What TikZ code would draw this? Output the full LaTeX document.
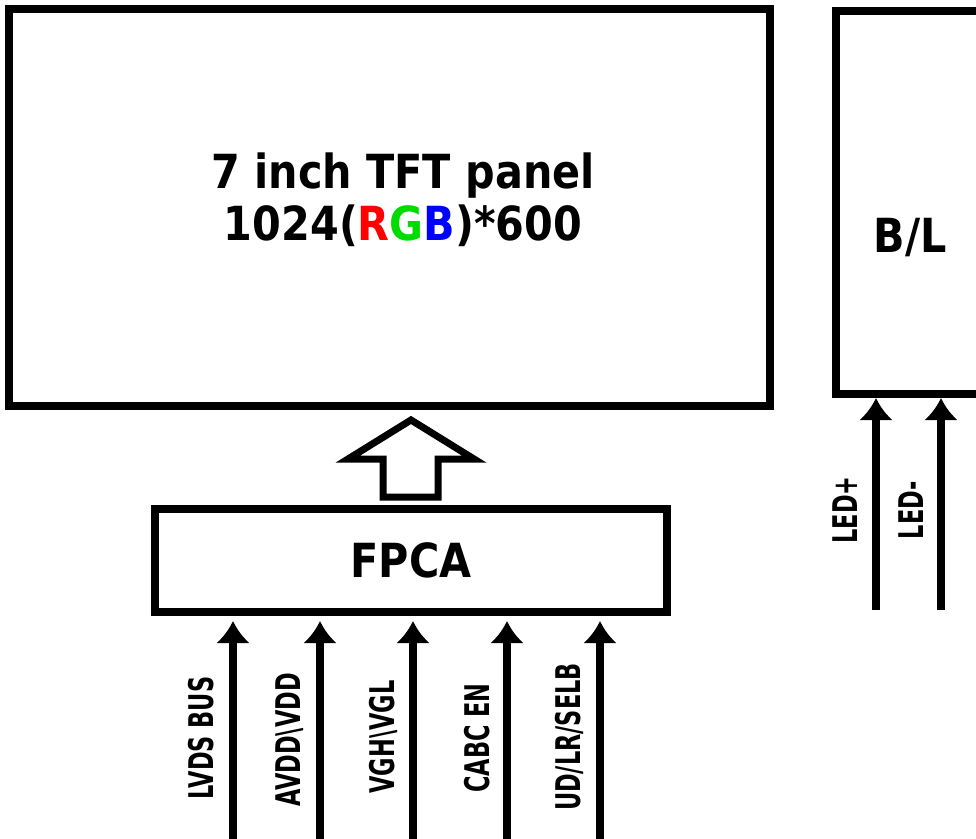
\documentclass[tikz,border=0pt]{standalone}
\usepackage{fontspec}
\usetikzlibrary{arrows.meta}

\newfontfamily\headfont{DejaVu Sans}[FakeStretch=0.88]
\newfontfamily\sigfont{DejaVu Sans}[FakeStretch=0.66]
\definecolor{rgbR}{RGB}{255,0,0}
\definecolor{rgbG}{RGB}{0,220,0}
\definecolor{rgbB}{RGB}{0,0,255}

\begin{document}
\begin{tikzpicture}[x=1pt, y=-1pt,
  box/.style={draw, line width=8pt, inner sep=0pt},
  head/.style={font={\headfont\bfseries\fontsize{47}{52}\selectfont}, align=center, inner sep=0pt},
  sig/.style={-{Latex[length=22pt,width=34pt]}, line width=8pt},
  lbl/.style={rotate=90, font={\sigfont\bfseries\fontsize{34}{34}\selectfont}, inner sep=0pt},
  hollow/.style={line width=7pt, line join=miter}
]
  \useasboundingbox (0,0) rectangle (976,838);
  \clip (0,0) rectangle (976,838);

  % blocks
  \node[box, minimum width=761pt, minimum height=397pt] (panel) at (389.5,207.5) {};
  \node[head] (title) at (403,200) {7 inch TFT panel\\1024(\textcolor{rgbR}{R}\textcolor{rgbG}{G}\textcolor{rgbB}{B})*600};
  \node[box, minimum width=148pt, minimum height=383pt] (bl) at (910,202.5) {};
  \node[head] (bltext) at (910,238) {B/L};
  \node[box, head, minimum width=512pt, minimum height=103pt] (fpca) at (411,560.5) {FPCA};

  % FPCA -> panel
  \draw[hollow] (383,497) -- (383,459) -- (348,459) -- (411,420) -- (474,459)
                -- (438,459) -- (438,497) -- cycle;

  % input signals
  \coordinate (lvds) at (233,850);
  \coordinate (avdd) at (320,850);
  \coordinate (vgh)  at (413,850);
  \coordinate (cabc) at (507,850);
  \coordinate (udlr) at (600,850);
  \coordinate (ledp) at (876,610);
  \coordinate (ledm) at (941,610);

  \draw[sig, shorten >=5pt] (lvds) -- (lvds |- fpca.south);
  \draw[sig, shorten >=5pt] (avdd) -- (avdd |- fpca.south);
  \draw[sig, shorten >=5pt] (vgh)  -- (vgh |- fpca.south);
  \draw[sig, shorten >=5pt] (cabc) -- (cabc |- fpca.south);
  \draw[sig, shorten >=5pt] (udlr) -- (udlr |- fpca.south);
  \draw[sig] (ledp) -- (ledp |- bl.south);
  \draw[sig] (ledm) -- (ledm |- bl.south);

  \node[lbl] (lvdsL) at (201,738) {LVDS BUS};
  \node[lbl] (avddL) at (290,740) {AVDD\textbackslash VDD};
  \node[lbl] (vghL)  at (383,737) {VGH\textbackslash VGL};
  \node[lbl] (cabcL) at (477,738) {CABC EN};
  \node[lbl] (udlrL) at (569,737) {UD/LR/SELB};
  \node[lbl] (ledpL) at (845,510) {LED+};
  \node[lbl] (ledmL) at (911,510) {LED-};
\end{tikzpicture}
\end{document}
